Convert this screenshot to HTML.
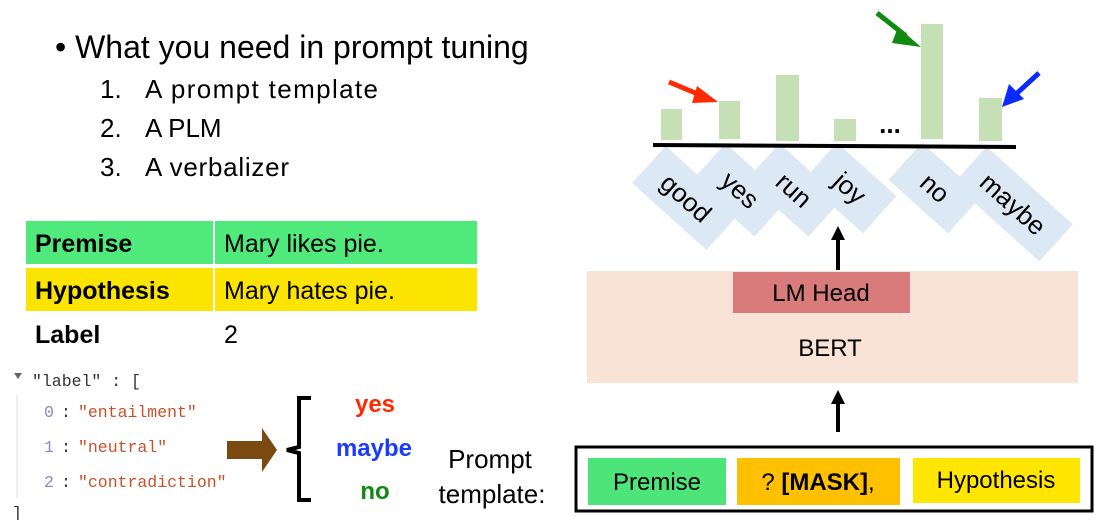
<!DOCTYPE html>
<html><head><meta charset="utf-8"><style>
body{margin:0;width:1106px;height:520px;background:#fff;overflow:hidden;position:relative;font-family:"Liberation Sans",sans-serif}
</style></head><body>
<svg width="1106" height="520" style="position:absolute;left:0;top:0" font-family="Liberation Sans, sans-serif">
<!-- left text -->
<text x="55" y="58" font-size="32" fill="#000">• What you need in prompt tuning</text>
<text x="100" y="98" font-size="26">1.</text><text x="145" y="98" font-size="26" textLength="233">A prompt template</text>
<text x="100" y="137" font-size="26">2.</text><text x="145" y="137" font-size="26">A PLM</text>
<text x="100" y="176" font-size="26">3.</text><text x="145" y="176" font-size="26" textLength="144">A verbalizer</text>
<!-- table -->
<rect x="26" y="221" width="187" height="43" fill="#50e97c"/>
<rect x="215" y="221" width="262" height="43" fill="#50e97c"/>
<rect x="26" y="268" width="187" height="43" fill="#fbe500"/>
<rect x="215" y="268" width="262" height="43" fill="#fbe500"/>
<text x="35" y="252" font-size="25" font-weight="bold">Premise</text>
<text x="224" y="252" font-size="25">Mary likes pie.</text>
<text x="35" y="299" font-size="25" font-weight="bold">Hypothesis</text>
<text x="224" y="299" font-size="25">Mary hates pie.</text>
<text x="35" y="343" font-size="25" font-weight="bold">Label</text>
<text x="224" y="343" font-size="25">2</text>
<!-- json -->
<g font-family="Liberation Mono, monospace" font-size="16.5">
<path d="M14,373 L22,373 L18,379Z" fill="#666"/>
<text x="32" y="386" fill="#333">"label" : [</text>
<line x1="17" y1="395" x2="17" y2="498" stroke="#ddd" stroke-width="1"/>
<text x="44" y="417" fill="#8888cc">0</text><text x="61" y="417" fill="#333">:</text><text x="78" y="417" fill="#c8502a">"entailment"</text>
<text x="44" y="452" fill="#8888cc">1</text><text x="61" y="452" fill="#333">:</text><text x="78" y="452" fill="#c8502a">"neutral"</text>
<text x="44" y="487" fill="#8888cc">2</text><text x="61" y="487" fill="#333">:</text><text x="78" y="487" fill="#c8502a">"contradiction"</text>
<text x="12" y="518" fill="#333">]</text>
</g>
<!-- brown arrow -->
<path d="M227,441 L262,441 L262,428 L277,450 L262,472 L262,459 L227,459Z" fill="#7a4a10"/>
<!-- brace -->
<path d="M311,398 L299,398 L299,447 L287,450 L299,453 L299,500 L311,500" fill="none" stroke="#000" stroke-width="4"/>
<text x="375" y="412" font-size="24" font-weight="bold" fill="#ff2a00" text-anchor="middle">yes</text>
<text x="374" y="456" font-size="24" font-weight="bold" fill="#1a3cff" text-anchor="middle">maybe</text>
<text x="375" y="499" font-size="24" font-weight="bold" fill="#128a12" text-anchor="middle">no</text>
<text x="490" y="468" font-size="26" text-anchor="middle">Prompt</text>
<text x="492" y="503" font-size="26" text-anchor="middle">template:</text>
<!-- template box -->
<rect x="576" y="447" width="516" height="64" fill="#fff" stroke="#000" stroke-width="3"/>
<rect x="588" y="458" width="138" height="47" fill="#4de57a"/>
<text x="657" y="490" font-size="24" text-anchor="middle">Premise</text>
<rect x="737" y="458" width="163" height="47" fill="#ffc000"/>
<text x="818" y="490" font-size="24" text-anchor="middle">? <tspan font-weight="bold">[MASK]</tspan>,</text>
<rect x="913" y="458" width="167" height="45" fill="#ffe600"/>
<text x="996" y="488" font-size="24" text-anchor="middle">Hypothesis</text>
<!-- arrows up -->
<line x1="838" y1="432" x2="838" y2="402" stroke="#000" stroke-width="4"/>
<path d="M831,404 L838,390 L845,404Z" fill="#000"/>
<line x1="838" y1="270" x2="838" y2="238" stroke="#000" stroke-width="4"/>
<path d="M831,240 L838,226 L845,240Z" fill="#000"/>
<!-- BERT -->
<rect x="587" y="271" width="491" height="112" fill="#f9e3d6"/>
<rect x="733" y="272" width="177" height="41" fill="#d97b7b"/>
<text x="821" y="301" font-size="24" text-anchor="middle">LM Head</text>
<text x="830" y="356" font-size="24" text-anchor="middle">BERT</text>
<!-- diamonds -->
<g font-size="26" fill="#000">
<g transform="translate(686,198) rotate(42)"><rect x="-50" y="-25" width="100" height="50" fill="#dde8f5"/><text x="0" y="9" text-anchor="middle">good</text></g>
<g transform="translate(740,190) rotate(42)"><rect x="-42" y="-25" width="84" height="50" fill="#dde8f5"/><text x="0" y="9" text-anchor="middle">yes</text></g>
<g transform="translate(794,190) rotate(42)"><rect x="-42" y="-25" width="84" height="50" fill="#dde8f5"/><text x="0" y="9" text-anchor="middle">run</text></g>
<g transform="translate(850,188) rotate(42)"><rect x="-40" y="-25" width="80" height="50" fill="#dde8f5"/><text x="0" y="9" text-anchor="middle">joy</text></g>
<g transform="translate(935,188) rotate(42)"><rect x="-40" y="-25" width="80" height="50" fill="#dde8f5"/><text x="0" y="9" text-anchor="middle">no</text></g>
<g transform="translate(1013,204) rotate(42)"><rect x="-58" y="-25" width="116" height="50" fill="#dde8f5"/><text x="0" y="9" text-anchor="middle">maybe</text></g>
</g>
<!-- bars -->
<g fill="#c5e0b4">
<rect x="661" y="109" width="21" height="31"/>
<rect x="719" y="101" width="21" height="38"/>
<rect x="776" y="75" width="23" height="66"/>
<rect x="834" y="119" width="22" height="22"/>
<rect x="921" y="24" width="22" height="115"/>
<rect x="979" y="98" width="23" height="43"/>
</g>
<text x="890" y="133" font-size="26" font-weight="bold" text-anchor="middle">...</text>
<line x1="653" y1="145" x2="1016" y2="147" stroke="#000" stroke-width="4"/>
<!-- colored arrows -->
<line x1="669" y1="82" x2="705" y2="97" stroke="#ff2a00" stroke-width="5"/>
<path d="M697,86 L718,102 L692,103Z" fill="#ff2a00"/>
<line x1="877" y1="13" x2="906" y2="36" stroke="#118a11" stroke-width="5"/>
<path d="M898,27 L921,47 L892,43Z" fill="#118a11"/>
<line x1="1039" y1="73" x2="1015" y2="95" stroke="#0a2aff" stroke-width="5"/>
<path d="M1009,84 L1002,107 L1024,99Z" fill="#0a2aff"/>
</svg>
</body></html>
